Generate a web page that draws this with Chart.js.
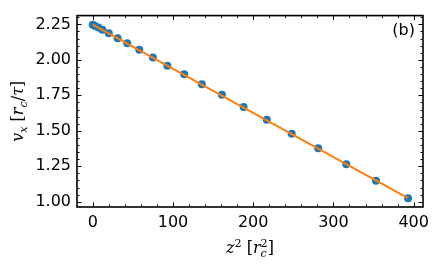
<!DOCTYPE html>
<html>
<head>
<meta charset="utf-8">
<script src="https://cdn.jsdelivr.net/npm/chart.js@4.4.1/dist/chart.umd.min.js"></script>
<style>
  html, body { margin: 0; padding: 0; background: #fff; }
  #wrap { width: 436px; height: 266px; }
</style>
</head>
<body>
<div id="wrap"><canvas id="chart" width="436" height="266"></canvas></div>
<script>
// measured points, z^2 in r_c^2 and v_x in r_c/tau
const zSq = [0, 3, 7, 12, 20, 31, 43, 58, 75, 93, 114, 136, 161, 188, 217, 248, 281, 316, 353, 393];
const vx  = [2.248, 2.238, 2.229, 2.212, 2.188, 2.152, 2.118, 2.071, 2.017, 1.959, 1.899,
             1.829, 1.755, 1.668, 1.578, 1.480, 1.377, 1.265, 1.148, 1.025];

// linear fit end points
const fitZ = [0, 393];
const fitV = [2.249, 1.025];

const xTicks = [0, 100, 200, 300, 400];
const yTicks = [1.00, 1.25, 1.50, 1.75, 2.00, 2.25];

const BLUE = "#1f77b4";
const ORANGE = "#ff7f0e";
const MATH = '"DejaVu Serif"';

// text runs for the axis titles
const yTitle = [
  { t: "v", it: true }, { t: "x", it: true, pos: "sub" },
  { t: " [" }, { t: "r", it: true }, { t: "c", it: true, pos: "sub" },
  { t: "/" }, { t: "τ", it: true }, { t: "]" }
];
const xTitle = [
  { t: "z", it: true }, { t: "2", pos: "sup" },
  { t: " [" }, { t: "r", it: true }, { t: "c", it: true, pos: "sub", noAdv: true },
  { t: "2", pos: "sup" }, { t: "]" }
];

function runFont(r, size) {
  const s = r.pos ? size * 0.7 : size;
  return `${r.it ? "italic " : ""}${s}px ${MATH}`;
}

function drawRuns(ctx, runs, cx, cy, size) {
  let total = 0;
  for (const r of runs) {
    ctx.font = runFont(r, size);
    r.w = ctx.measureText(r.t).width;
    if (!r.noAdv) total += r.w;
  }
  let x = cx - total / 2;
  ctx.textBaseline = "alphabetic";
  ctx.textAlign = "left";
  for (const r of runs) {
    ctx.font = runFont(r, size);
    let dy = 0;
    if (r.pos === "sub") dy = size * 0.22;
    if (r.pos === "sup") dy = -size * 0.38;
    ctx.fillText(r.t, x, cy + dy);
    if (!r.noAdv) x += r.w;
  }
}

const framePlugin = {
  id: "frame",
  afterDatasetsDraw(chart) {
    const { ctx, chartArea: a, scales } = chart;
    const xs = scales.x, ys = scales.y;
    ctx.save();
    ctx.strokeStyle = "#000";
    ctx.lineWidth = 1;

    function xt(v, len) {
      const p = Math.round(xs.getPixelForValue(v)) + 0.5;
      ctx.beginPath();
      ctx.moveTo(p, a.bottom); ctx.lineTo(p, a.bottom - len);
      ctx.moveTo(p, a.top); ctx.lineTo(p, a.top + len);
      ctx.stroke();
    }
    function yt(v, len) {
      const p = Math.round(ys.getPixelForValue(v)) + 0.5;
      ctx.beginPath();
      ctx.moveTo(a.left, p); ctx.lineTo(a.left + len, p);
      ctx.moveTo(a.right, p); ctx.lineTo(a.right - len, p);
      ctx.stroke();
    }

    for (let v = 20; v < xs.max; v += 20) {
      if (v % 100 !== 0) xt(v, 2.5);
    }
    for (let i = 0; i < 30; i++) {
      const v = 0.95 + i * 0.05;
      if (v > ys.min && v < ys.max && Math.abs((v * 4) - Math.round(v * 4)) > 1e-6) yt(v, 2.5);
    }
    xTicks.forEach(v => xt(v, 4.5));
    yTicks.forEach(v => yt(v, 4.5));

    ctx.lineWidth = 1.6;
    ctx.strokeRect(a.left, a.top, a.right - a.left, a.bottom - a.top);

    ctx.fillStyle = "#000";
    ctx.font = '16px "DejaVu Sans"';
    ctx.textAlign = "right";
    ctx.textBaseline = "middle";
    ctx.fillText("(b)", a.right - 8, 31);

    drawRuns(ctx, xTitle, (a.left + a.right) / 2, 253, 16);
    ctx.translate(23, (a.top + a.bottom) / 2);
    ctx.rotate(-Math.PI / 2);
    drawRuns(ctx, yTitle, 0, 0, 16);
    ctx.restore();
  }
};

Chart.defaults.font.family = '"DejaVu Sans"';
Chart.defaults.font.size = 16;
Chart.defaults.color = "#000";

new Chart(document.getElementById("chart"), {
  type: "scatter",
  data: {
    datasets: [
      {
        data: fitZ.map((z, i) => ({ x: z, y: fitV[i] })),
        showLine: true,
        borderColor: ORANGE,
        borderWidth: 2,
        pointRadius: 0,
        order: 0
      },
      {
        data: zSq.map((z, i) => ({ x: z, y: vx[i] })),
        backgroundColor: BLUE,
        borderWidth: 0,
        pointRadius: 4,
        order: 1
      }
    ]
  },
  options: {
    responsive: false,
    animation: false,
    layout: { padding: { left: 0, right: 13, top: 6, bottom: 0 } },
    plugins: { legend: { display: false }, tooltip: { enabled: false } },
    scales: {
      x: {
        type: "linear",
        min: -19.6,
        max: 411.6,
        grid: { display: false, drawTicks: false },
        border: { display: false },
        afterBuildTicks: s => { s.ticks = xTicks.map(v => ({ value: v })); },
        afterFit: s => { s.height = 59; },
        ticks: { padding: 6, maxRotation: 0, callback: v => String(v) }
      },
      y: {
        type: "linear",
        min: 0.963,
        max: 2.312,
        grid: { display: false, drawTicks: false },
        border: { display: false },
        afterBuildTicks: s => { s.ticks = yTicks.map(v => ({ value: v })); },
        afterFit: s => { s.width = 77; },
        ticks: { padding: 6, callback: v => Number(v).toFixed(2) }
      }
    }
  },
  plugins: [framePlugin]
});
</script>
</body>
</html>
